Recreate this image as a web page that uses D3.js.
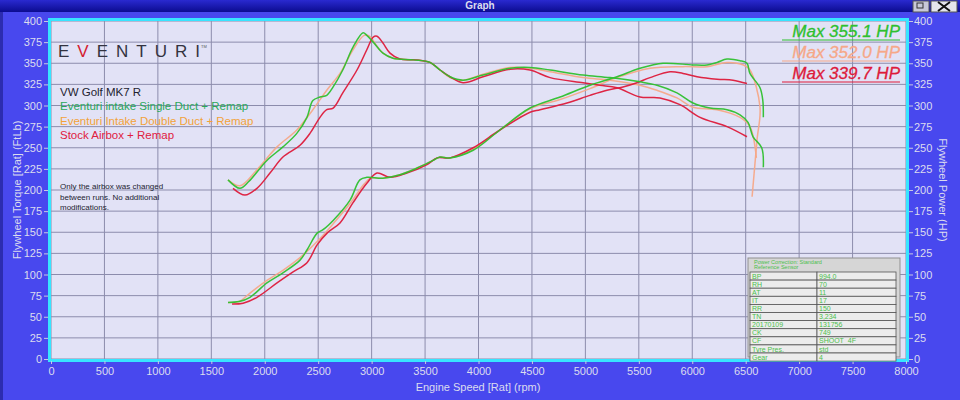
<!DOCTYPE html>
<html><head><meta charset="utf-8">
<script src="https://cdn.jsdelivr.net/npm/d3@7"></script>
<style>body{margin:0;background:#4848ee;}svg{display:block;font-family:"Liberation Sans",Arial,sans-serif;}</style>
</head><body><svg id="c" width="960" height="400"></svg>
<script>
// ---- data ----
const rpmTicks = d3.range(0, 8001, 500);
const valTicks = d3.range(0, 401, 25);

const greenTorqueRpm = [1656,1768,1850,2020,2170,2300,2395,2450,2517,2580,2640,2730,2826,2920,2955,3015,3106,3200,3390,3546,3640,3733,3855,4042,4295,4482,4670,4978,5230,5511,5670,5857,6007,6166,6325,6447,6522,6569,6650,6665];
const greenTorque    = [212,202,210,235,251,267,286,306,310,312,322,342,369,386,383,375,362,356,354,351,342,334,330,336,344,345,342,336,333,328,324,315,303,297,295,289,280,263,250,227];
const greenPowerRpm  = [1656,1760,1862,2020,2170,2330,2395,2490,2545,2640,2798,2890,2955,3106,3265,3425,3575,3640,3733,3950,4200,4482,4763,5043,5296,5511,5727,6007,6138,6232,6325,6447,6512,6540,6634,6660,6665];
const greenPower     = [67,68,73,90,102,117,129,149,153,164,188,212,215,214,218,226,235,239,238,247,271,297,310,324,334,344,350,348,348,351,355,353,350,338,321,306,286];

const orangeTorqueRpm = [1656,1768,1927,2115,2300,2450,2580,2704,2826,2930,2980,3040,3106,3200,3390,3546,3640,3733,3855,4042,4295,4482,4670,4978,5230,5511,5670,5857,6007,6232,6447,6540,6600];
const orangeTorque    = [212,205,224,251,271,295,318,338,366,383,382,372,362,356,354,351,342,333,330,337,345,344,340,333,330,324,318,309,298,295,286,275,238];
const orangePowerRpm  = [1656,1760,1862,2020,2170,2330,2490,2640,2798,2930,2990,3106,3265,3425,3575,3640,3733,3950,4200,4482,4763,5043,5296,5605,5913,6138,6325,6480,6540,6634,6606,6560];
const orangePower     = [67,68,78,93,105,120,139,160,184,207,214,214,218,226,235,239,238,248,271,296,307,320,333,344,346,346,351,348,342,298,259,192];

const redTorqueRpm = [1703,1815,1927,2049,2170,2330,2423,2517,2580,2640,2730,2863,2955,3015,3050,3106,3172,3265,3425,3546,3640,3733,3855,4042,4295,4482,4670,4978,5137,5296,5511,5698,5885,6073,6325,6512];
const redTorque    = [202,194,202,220,239,253,267,286,295,297,315,342,366,381,382,374,362,355,354,351,342,334,327,334,343,342,333,327,324,321,310,309,301,286,275,263];
const redPowerRpm  = [1694,1797,1927,2115,2265,2395,2490,2583,2704,2826,2955,3050,3172,3330,3518,3612,3733,3950,4200,4482,4576,4828,5043,5202,5352,5483,5605,5792,5913,6045,6232,6381,6512];
const redPower     = [65,66,73,90,103,114,135,149,161,185,208,220,215,220,230,238,238,250,271,292,295,303,312,318,322,327,333,340,338,334,331,330,326];

const legendLines = ["VW Golf MK7 R","Eventuri intake Single Duct + Remap","Eventuri Intake Double Duct + Remap","Stock Airbox + Remap"];
const maxLabels = ["Max 355.1 HP","Max 352.0 HP","Max 339.7 HP"];
const noteLines = ["Only the airbox was changed","between runs. No additional","modifications."];
const tableKeys = ["BP","RH","AT","IT","RR","TN","20170109","CK","CF","Tyre Pres.","Gear"];
const tableVals = ["994.0","70","11","17","150","3,234","131756","749","SHOOT_4F","std","4"];

// ---- styles ----
const C = {green:"#2ec02e", orange:"#f6a888", red:"#dd1a3a",
  legGreen:"#2aa85a", legOrange:"#f2a23a", legRed:"#e0203e"};

const svg = d3.select("#c");
const W = 960, H = 400;
svg.append("rect").attr("width",W).attr("height",H).attr("fill","#4848ee");
svg.append("rect").attr("x",0).attr("y",0).attr("width",3).attr("height",H).attr("fill","#2c2cb0");

// title bar
const tg = svg.append("defs").append("linearGradient").attr("id","tb").attr("x1",0).attr("x2",0).attr("y1",0).attr("y2",1);
tg.append("stop").attr("offset","0").attr("stop-color","#2a2ad0");
tg.append("stop").attr("offset","1").attr("stop-color","#0c0c90");
svg.append("rect").attr("x",0).attr("y",0).attr("width",W).attr("height",12).attr("fill","url(#tb)");
svg.append("text").attr("x",480).attr("y",9).attr("text-anchor","middle").attr("fill","#dde").attr("font-size",10).attr("font-weight","bold").text("Graph");
svg.append("rect").attr("x",913).attr("y",1).attr("width",16).attr("height",11).attr("fill","#c8c8d8").attr("stroke","#555");
svg.append("rect").attr("x",917).attr("y",3).attr("width",6).attr("height",5).attr("fill","none").attr("stroke","#333");
svg.append("rect").attr("x",931).attr("y",1).attr("width",26).attr("height",11).attr("fill","#e4e4ec").attr("stroke","#555");
svg.append("path").attr("d","M938,2 L950,11 M950,2 L938,11").attr("stroke","#111").attr("stroke-width",2);

const x = d3.scaleLinear().domain([0,8000]).range([51,906]);
const y = d3.scaleLinear().domain([0,400]).range([359,21]);

// plot area
svg.append("rect").attr("x",51).attr("y",21).attr("width",855).attr("height",338).attr("fill","#e2e2f6");
const grid = svg.append("g").attr("stroke","#8c8cac").attr("stroke-width",1);
rpmTicks.forEach(t=>grid.append("line").attr("x1",x(t)).attr("x2",x(t)).attr("y1",21).attr("y2",359));
valTicks.forEach(t=>grid.append("line").attr("x1",51).attr("x2",906).attr("y1",y(t)).attr("y2",y(t)));
svg.append("rect").attr("x",49.5).attr("y",19.5).attr("width",858).attr("height",341).attr("fill","none").attr("stroke","#38e4ff").attr("stroke-width",3);

// axes
const axStyle = g=>{g.selectAll("text").attr("fill","#dcdcee").attr("font-size",11).attr("font-family","Liberation Sans, Arial");g.selectAll("line").attr("stroke","#c8c8e0");g.select(".domain").remove();};
svg.append("g").attr("transform","translate(0,361)").call(d3.axisBottom(x).tickValues(rpmTicks).tickSize(3).tickPadding(3).tickFormat(d3.format("d"))).call(axStyle);
svg.append("g").attr("transform","translate(48,0)").call(d3.axisLeft(y).tickValues(valTicks).tickSize(4).tickPadding(2)).call(axStyle);
svg.append("g").attr("transform","translate(909,0)").call(d3.axisRight(y).tickValues(valTicks).tickSize(4).tickPadding(1)).call(axStyle);

svg.append("text").attr("x",478).attr("y",391).attr("text-anchor","middle").attr("fill","#dcdcee").attr("font-size",11).text("Engine Speed [Rat] (rpm)");
svg.append("text").attr("transform","translate(21,190) rotate(-90)").attr("text-anchor","middle").attr("fill","#dcdcee").attr("font-size",11).text("Flywheel Torque [Rat] (FtLb)");
svg.append("text").attr("transform","translate(939,190) rotate(90)").attr("text-anchor","middle").attr("fill","#dcdcee").attr("font-size",11).text("Flywheel Power (HP)");

// logo
const logo = svg.append("text").attr("x",58).attr("y",57).attr("font-size",17).attr("fill","#333340").attr("font-family","Liberation Sans, Arial");
logo.append("tspan").attr("letter-spacing",8).text("E");
logo.append("tspan").attr("letter-spacing",8).attr("fill","#d42030").text("V");
logo.append("tspan").attr("letter-spacing",8).text("ENTUR");
logo.append("tspan").attr("letter-spacing",0).text("I");
svg.append("text").attr("x",201).attr("y",48).attr("font-size",4).attr("fill","#555").text("TM");

// legend
const legCols = ["#222230",C.legGreen,C.legOrange,C.legRed];
legendLines.forEach((t,i)=>svg.append("text").attr("x",60).attr("y",96+i*14.3).attr("font-size",11.5).attr("fill",legCols[i]).text(t));
noteLines.forEach((t,i)=>svg.append("text").attr("x",60).attr("y",189+i*10.5).attr("font-size",8).attr("fill","#222230").text(t));

// max labels
const maxCols = [C.green,C.orange,C.red];
maxLabels.forEach((t,i)=>{
  svg.append("text").attr("x",900).attr("y",37+i*21).attr("text-anchor","end").attr("font-size",17).attr("font-style","italic").attr("fill",maxCols[i]).attr("stroke",maxCols[i]).attr("stroke-width",0.3).text(t);
  svg.append("line").attr("x1",782).attr("x2",900).attr("y1",40+i*21).attr("y2",40+i*21).attr("stroke",maxCols[i]).attr("stroke-width",1.2);
});

// curves
const line = d3.line().x(d=>x(d[0])).y(d=>y(d[1])).curve(d3.curveCatmullRom.alpha(0.5));
const zip=(a,b)=>a.map((v,i)=>[v,b[i]]);
const series = [
  [orangeTorqueRpm,orangeTorque,C.orange],[orangePowerRpm,orangePower,C.orange],
  [redTorqueRpm,redTorque,C.red],[redPowerRpm,redPower,C.red],
  [greenTorqueRpm,greenTorque,C.green],[greenPowerRpm,greenPower,C.green]];
series.forEach(s=>{
  svg.append("path").attr("d",line(zip(s[0],s[1]))).attr("fill","none").attr("stroke",s[2]).attr("stroke-width",1.5).attr("opacity",0.95);
});

// info table
const tx=748, ty=258, tw=152, rh=8.1;
svg.append("rect").attr("x",tx).attr("y",ty).attr("width",tw).attr("height",99).attr("fill","#d6d6d6").attr("stroke","#909090");
svg.append("text").attr("x",tx+6).attr("y",ty+6).attr("font-size",5.5).attr("fill","#4cc04c").text("Power Correction: Standard");
svg.append("text").attr("x",tx+6).attr("y",ty+11).attr("font-size",5.5).attr("fill","#4cc04c").text("Reference Sensor");
tableKeys.forEach((k,i)=>{
  const yy = ty+14+i*rh;
  svg.append("rect").attr("x",tx+2).attr("y",yy).attr("width",67).attr("height",rh).attr("fill","#ececec").attr("stroke","#555").attr("stroke-width",0.8);
  svg.append("rect").attr("x",tx+69).attr("y",yy).attr("width",tw-73).attr("height",rh).attr("fill","#ececec").attr("stroke","#555").attr("stroke-width",0.8);
  svg.append("text").attr("x",tx+4).attr("y",yy+rh-1.5).attr("font-size",7).attr("fill","#4cc04c").text(k);
  svg.append("text").attr("x",tx+71).attr("y",yy+rh-1.5).attr("font-size",7).attr("fill","#4cc04c").text(tableVals[i]);
});
</script></body></html>
